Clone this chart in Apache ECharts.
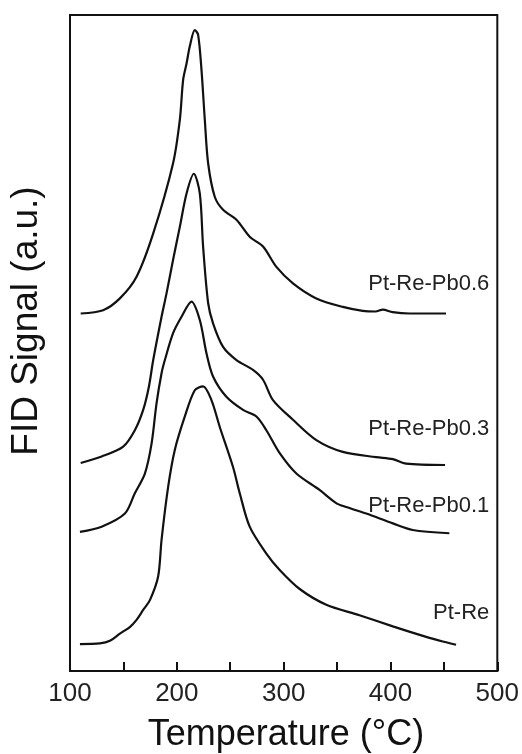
<!DOCTYPE html>
<html>
<head>
<meta charset="utf-8">
<script src="https://cdn.jsdelivr.net/npm/echarts@6/dist/echarts.min.js"></script>
<style>
  html, body { margin: 0; padding: 0; background: #fff; }
  #chart { width: 522px; height: 754px; }
</style>
</head>
<body>
<div id="chart"></div>
<script>
// TPR profiles: FID signal (arbitrary units, stacked with offsets) vs temperature
const seriesNames = ['Pt-Re-Pb0.6', 'Pt-Re-Pb0.3', 'Pt-Re-Pb0.1', 'Pt-Re'];

const tempPb06 = [110, 131, 146.7, 162.3, 177.9, 196.5, 202.8, 205.9, 209.1, 212.1, 216.8, 219.9, 223.1, 226.2, 229.3, 235.5, 243.3, 255.8, 268.2, 280.7, 293.2, 308.7, 330.6, 355.4, 374, 386, 392.8, 402, 417.8, 452];
const signalPb06 = [54.5, 55.0, 56.8, 60.1, 66.7, 77.4, 84.0, 90.1, 92.6, 95.2, 97.7, 97.0, 91.6, 84.0, 77.4, 72.3, 70.3, 68.8, 66.2, 64.7, 61.6, 59.1, 56.8, 55.5, 54.9, 54.8, 55.1, 54.7, 54.5, 54.5];

const tempPb03 = [110, 129.6, 149.8, 160.7, 168.5, 173.8, 177.9, 185.7, 190.4, 196.5, 202.8, 209.1, 215.9, 221.5, 224.6, 229.3, 233.9, 243.3, 255.8, 271.3, 280.7, 290, 308.7, 330.6, 355.4, 386.6, 402.2, 414.7, 451.1];
const signalPb03 = [31.7, 32.7, 34.2, 36.7, 39.8, 43.3, 47.4, 54.0, 57.6, 62.7, 67.7, 72.8, 75.8, 72.8, 64.7, 56.1, 53.0, 49.4, 47.4, 45.9, 44.4, 41.3, 38.3, 35.2, 33.4, 32.6, 32.3, 31.6, 31.4];

const tempPb01 = [109.3, 129.6, 151.4, 160.7, 170.1, 176.4, 181, 185.7, 188.8, 196.5, 204.4, 213.7, 221.5, 227.8, 233.9, 246.4, 262, 274.5, 283.8, 296.3, 311.9, 333.6, 349.2, 358.6, 377.3, 402.2, 420.8, 455.1];
const signalPb01 = [21.2, 22.0, 24.0, 27.1, 30.1, 34.7, 40.8, 45.4, 47.4, 51.5, 54.0, 56.3, 53.5, 48.4, 44.9, 41.8, 39.8, 38.8, 36.7, 33.2, 30.1, 27.6, 25.6, 25.0, 24.0, 22.5, 21.5, 21.0];

const tempPtRe = [109.3, 128, 137.4, 146.7, 156, 162.3, 168.5, 174.8, 182.5, 185.7, 191.9, 198.1, 207.5, 216.8, 224.6, 232.4, 240.2, 252.6, 258.9, 268.2, 283.8, 296.3, 315, 339.9, 371, 402.2, 433.4, 448.9, 461.4];
const signalPtRe = [4.1, 4.2, 4.6, 5.7, 6.7, 7.8, 9.3, 10.8, 14.4, 20.0, 28.1, 33.7, 38.8, 42.8, 43.4, 41.3, 37.2, 31.1, 27.1, 22.0, 17.9, 15.4, 12.5, 10.1, 8.5, 6.8, 5.2, 4.5, 4.0];

// Curve labels: anchored (right edge) at this temperature, at these signal levels
const labelTemp = 492.5;
const labelSignal = [59.0, 36.9, 25.2, 8.9];

const xTicks = [100, 500, 100]; // min, max, interval

const zip = (xs, ys) => xs.map((x, i) => [x, ys[i]]);
const curves = [
  zip(tempPb06, signalPb06),
  zip(tempPb03, signalPb03),
  zip(tempPb01, signalPb01),
  zip(tempPtRe, signalPtRe)
];

const FONT = '"Liberation Sans", Arial, Helvetica, sans-serif';
const INK = '#111';

const chart = echarts.init(document.getElementById('chart'), null, { renderer: 'canvas' });

chart.setOption({
  animation: false,
  backgroundColor: '#fff',
  grid: {
    left: 70, right: 24, top: 15, bottom: 83,
    show: true, borderColor: INK, borderWidth: 2, backgroundColor: 'transparent'
  },
  xAxis: {
    type: 'value',
    min: xTicks[0], max: xTicks[1], interval: xTicks[2],
    axisLine: { show: true, lineStyle: { color: INK, width: 2 } },
    axisTick: { show: true, inside: true, length: 9, lineStyle: { color: INK, width: 2 } },
    minorTick: { show: true, splitNumber: 2, length: 9, lineStyle: { color: INK, width: 2 } },
    axisLabel: { margin: 10, fontSize: 26, color: '#222', fontFamily: FONT },
    splitLine: { show: false },
    minorSplitLine: { show: false }
  },
  yAxis: {
    type: 'value', min: 0, max: 100,
    axisLine: { show: false }, axisTick: { show: false },
    axisLabel: { show: false }, splitLine: { show: false }
  },
  series: curves.map((data, i) => ({
    name: seriesNames[i],
    type: 'line',
    data: data,
    smooth: 0.3,
    showSymbol: false,
    lineStyle: { color: INK, width: 2.2 }
  }))
});

// Titles and curve labels
const graphics = [
  {
    type: 'text', x: 286, y: 735,
    style: { text: 'Temperature (°C)', fontSize: 36, fontFamily: FONT, fill: '#111',
             align: 'center', verticalAlign: 'middle' }
  },
  {
    type: 'text', x: 27, y: 321, rotation: Math.PI / 2,
    style: { text: 'FID Signal (a.u.)', fontSize: 37, fontFamily: FONT, fill: '#111',
             align: 'center', verticalAlign: 'middle' }
  }
];
seriesNames.forEach((name, i) => {
  const p = chart.convertToPixel({ gridIndex: 0 }, [labelTemp, labelSignal[i]]);
  graphics.push({
    type: 'text', x: p[0], y: p[1],
    style: { text: name, fontSize: 22, fontFamily: FONT, fill: '#222',
             align: 'right', verticalAlign: 'middle' }
  });
});
chart.setOption({ graphic: graphics });
</script>
</body>
</html>
